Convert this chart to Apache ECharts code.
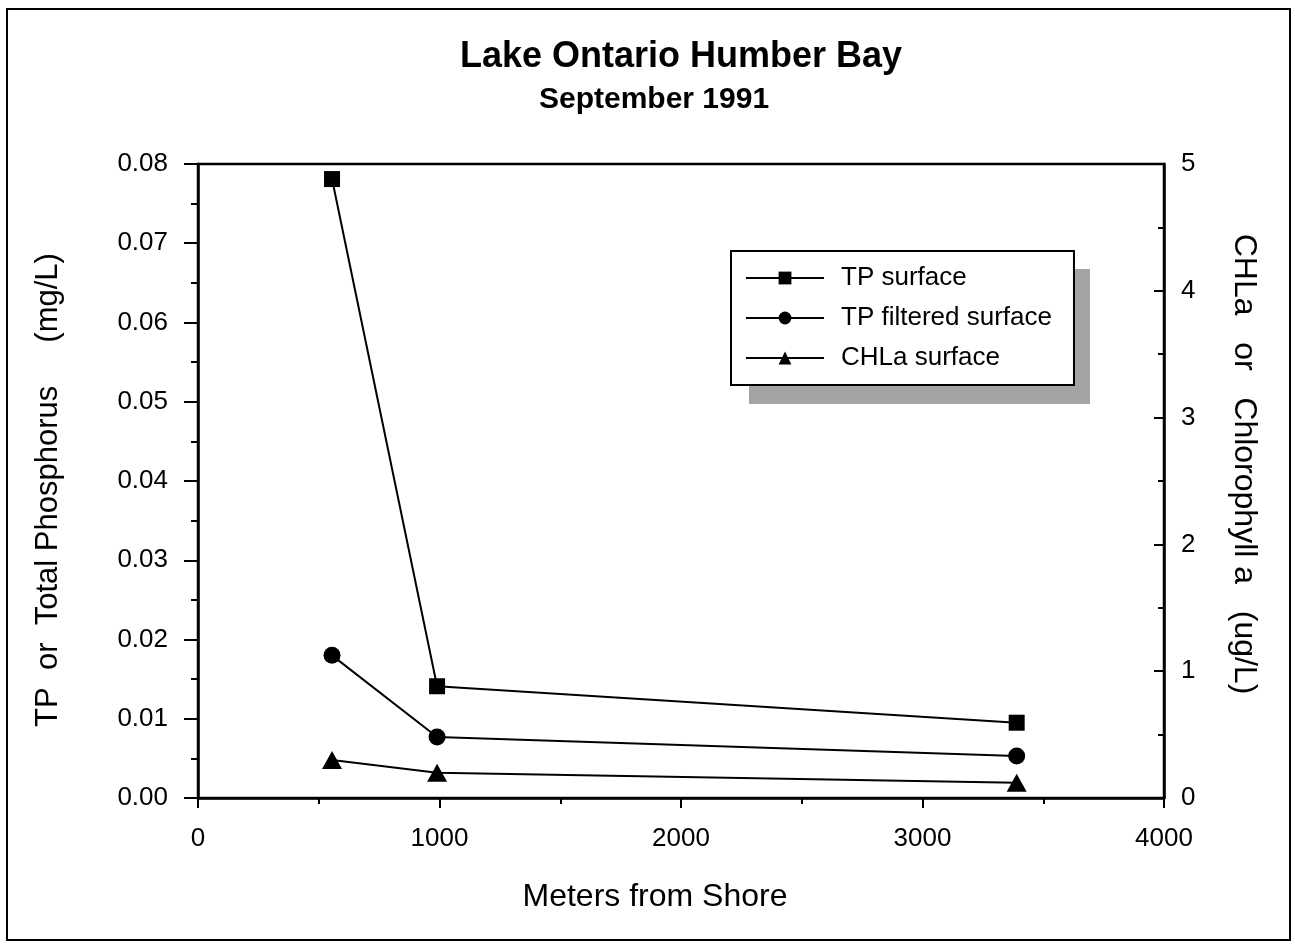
<!DOCTYPE html>
<html>
<head>
<meta charset="utf-8">
<title>Lake Ontario Humber Bay</title>
<script src="https://cdn.jsdelivr.net/npm/echarts@6/dist/echarts.min.js"></script>
<style>
  html, body { margin: 0; padding: 0; background: #fff; }
  #main { width: 1295px; height: 948px; }
</style>
</head>
<body>
<div id="main"></div>
<script>
// distance from shore (m)
var distances = [555, 990, 3390];
// total phosphorus, mg/L (left axis)
var tpSurface = [0.0781, 0.0141, 0.0095];
var tpFiltered = [0.0180, 0.0077, 0.0053];
// chlorophyll a, ug/L (right axis)
var chlaSurface = [0.30, 0.20, 0.12];

var seriesNames = ['TP surface', 'TP filtered surface', 'CHLa surface'];
var xTicks = [0, 1000, 2000, 3000, 4000];

var FONT = '"Liberation Sans", Arial, Helvetica, sans-serif';

function pairs(xs, ys) {
  return xs.map(function (x, i) { return [x, ys[i]]; });
}

var myChart = echarts.init(document.getElementById('main'));

var axisCommon = {
  axisLine: { show: true, lineStyle: { color: '#000', width: 2.5 } },
  splitLine: { show: false },
  axisLabel: { color: '#000', fontFamily: FONT, fontSize: 26 }
};

var option = {
  backgroundColor: '#fff',
  animation: false,
  graphic: [
    {
      type: 'rect',
      shape: { x: 7, y: 9, width: 1283, height: 931 },
      style: { fill: 'none', stroke: '#000', lineWidth: 2 },
      silent: true
    },
    // drop shadow behind the legend box
    {
      type: 'rect',
      z: 0,
      shape: { x: 749, y: 269, width: 341, height: 135 },
      style: { fill: '#a4a4a4' },
      silent: true
    },
    {
      type: 'text',
      x: 681, y: 57,
      style: {
        text: 'Lake Ontario Humber Bay',
        fontFamily: FONT, fontWeight: 'bold', fontSize: 36,
        fill: '#000', textAlign: 'center', textVerticalAlign: 'middle'
      }
    },
    {
      type: 'text',
      x: 654, y: 100,
      style: {
        text: 'September 1991',
        fontFamily: FONT, fontWeight: 'bold', fontSize: 30,
        fill: '#000', textAlign: 'center', textVerticalAlign: 'middle'
      }
    }
  ],
  grid: {
    left: 198, right: 131, top: 164, bottom: 150,
    show: true, borderColor: '#000', borderWidth: 2.5, backgroundColor: 'transparent'
  },
  legend: {
    orient: 'vertical',
    left: 731, top: 251,
    z: 10,
    data: seriesNames,
    itemWidth: 78, itemHeight: 16, itemGap: 14,
    padding: [14, 22, 14, 14],
    backgroundColor: '#fff',
    borderColor: '#000', borderWidth: 2,
    lineStyle: { width: 2 },
    textStyle: { color: '#000', fontFamily: FONT, fontSize: 26, lineHeight: 26, padding: [0, 0, 0, 12] }
  },
  xAxis: Object.assign({}, axisCommon, {
    type: 'value',
    min: xTicks[0], max: xTicks[xTicks.length - 1], interval: 1000,
    name: 'Meters from Shore',
    nameLocation: 'middle', nameGap: 83,
    nameTextStyle: { color: '#000', fontFamily: FONT, fontSize: 32, padding: [0, 52, 0, 0] },
    axisTick: { show: true, inside: false, length: 10, lineStyle: { color: '#000', width: 2 } },
    minorTick: { show: true, splitNumber: 2, length: 6, lineStyle: { color: '#000', width: 2 } },
    axisLabel: {
      color: '#000', fontFamily: FONT, fontSize: 26, margin: 28,
      formatter: function (v) { return String(v); }
    }
  }),
  yAxis: [
    Object.assign({}, axisCommon, {
      type: 'value', position: 'left',
      min: 0, max: 0.08, interval: 0.01,
      name: 'TP  or  Total Phosphorus     (mg/L)',
      nameLocation: 'middle', nameGap: 134, nameRotate: 90,
      nameTextStyle: { color: '#000', fontFamily: FONT, fontSize: 31, padding: [0, 18, 0, 0] },
      axisTick: { show: true, inside: false, length: 14, lineStyle: { color: '#000', width: 2 } },
      minorTick: { show: true, splitNumber: 2, length: 7, lineStyle: { color: '#000', width: 2 } },
      axisLabel: {
        color: '#000', fontFamily: FONT, fontSize: 26, margin: 30,
        formatter: function (v) { return v.toFixed(2); }
      }
    }),
    Object.assign({}, axisCommon, {
      type: 'value', position: 'right',
      min: 0, max: 5, interval: 1,
      name: 'CHLa   or   Chlorophyll a   (ug/L)',
      nameLocation: 'middle', nameGap: 64, nameRotate: -90,
      nameTextStyle: { color: '#000', fontFamily: FONT, fontSize: 32, padding: [0, 34, 0, 0] },
      axisTick: { show: true, inside: true, length: 10, lineStyle: { color: '#000', width: 2 } },
      minorTick: { show: true, splitNumber: 2, length: 6, lineStyle: { color: '#000', width: 2 } },
      axisLabel: { color: '#000', fontFamily: FONT, fontSize: 26, margin: 17, padding: [0, 0, 14, 0] }
    })
  ],
  series: [
    {
      name: seriesNames[0], type: 'line', yAxisIndex: 0,
      data: pairs(distances, tpSurface),
      symbol: 'rect', symbolSize: 16,
      lineStyle: { color: '#000', width: 2 },
      itemStyle: { color: '#000' }
    },
    {
      name: seriesNames[1], type: 'line', yAxisIndex: 0,
      data: pairs(distances, tpFiltered),
      symbol: 'circle', symbolSize: 17,
      lineStyle: { color: '#000', width: 2 },
      itemStyle: { color: '#000' }
    },
    {
      name: seriesNames[2], type: 'line', yAxisIndex: 1,
      data: pairs(distances, chlaSurface),
      symbol: 'triangle', symbolSize: [20, 18],
      lineStyle: { color: '#000', width: 2 },
      itemStyle: { color: '#000' }
    }
  ]
};

myChart.setOption(option);
</script>
</body>
</html>
